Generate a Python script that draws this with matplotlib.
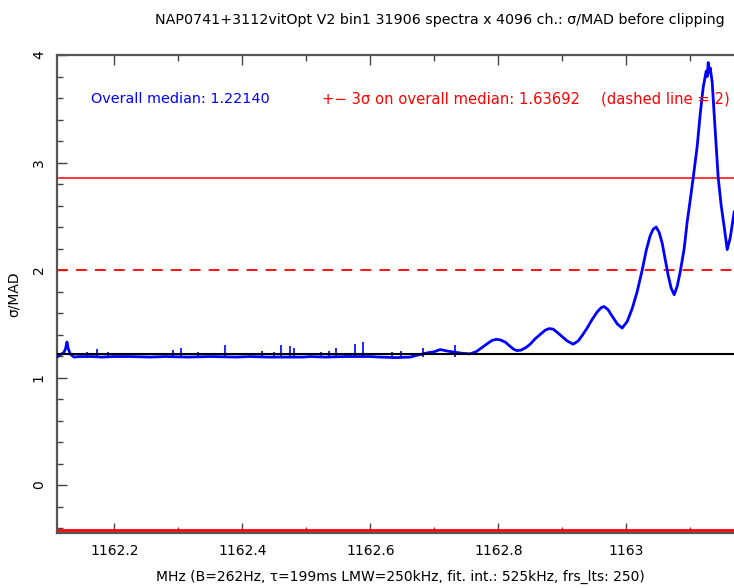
import matplotlib
matplotlib.use("Agg")
import matplotlib.pyplot as plt
from matplotlib.ticker import MultipleLocator

plt.rcParams['font.family'] = ['DejaVu Sans']

# Overall statistics
overall_median = 1.22140
three_sigma = 1.63692
dashed_level = 2.0

# sigma/MAD profile across the band (MHz, value)
freq_mhz = [
    1162.1105, 1162.115, 1162.121, 1162.124, 1162.1261, 1162.128, 1162.131,
    1162.137, 1162.146, 1162.165, 1162.180, 1162.200, 1162.225, 1162.256,
    1162.280, 1162.315, 1162.350, 1162.390, 1162.412, 1162.440, 1162.495,
    1162.506, 1162.530, 1162.560, 1162.600, 1162.615, 1162.640, 1162.662,
    1162.675, 1162.690, 1162.700, 1162.709, 1162.721, 1162.7433, 1162.7558,
    1162.7652, 1162.7746, 1162.7839, 1162.7902, 1162.7964, 1162.8027,
    1162.8105, 1162.8183, 1162.8246, 1162.8293, 1162.8355, 1162.8433,
    1162.8496, 1162.8574, 1162.8652, 1162.8730, 1162.8793, 1162.8855,
    1162.8918, 1162.8996, 1162.9074, 1162.9168, 1162.9246, 1162.9308,
    1162.9386, 1162.9464, 1162.9543, 1162.9605, 1162.9652, 1162.9714,
    1162.9777, 1162.9855, 1162.9933, 1163.0011, 1163.0089, 1163.0168,
    1163.0246, 1163.0308, 1163.0371, 1163.0418, 1163.0464, 1163.0511,
    1163.0558, 1163.0605, 1163.0652, 1163.0699, 1163.0746, 1163.0793,
    1163.0839, 1163.0902, 1163.0949, 1163.0996, 1163.1043, 1163.1105,
    1163.1152, 1163.1199, 1163.1246, 1163.1262, 1163.1277, 1163.1293,
    1163.1308, 1163.1339, 1163.1386, 1163.1433, 1163.1480, 1163.1527,
    1163.1574, 1163.1621, 1163.1652, 1163.1683,
]
sigma_mad = [
    1.19, 1.21, 1.23, 1.27, 1.33, 1.27, 1.22,
    1.19, 1.195, 1.195, 1.19, 1.195, 1.195, 1.19,
    1.195, 1.19, 1.195, 1.19, 1.195, 1.19, 1.19,
    1.195, 1.19, 1.195, 1.195, 1.19, 1.185, 1.19,
    1.21, 1.23, 1.24, 1.26, 1.245, 1.225, 1.22,
    1.24, 1.28, 1.32, 1.345, 1.355, 1.35,
    1.33, 1.29, 1.26, 1.25, 1.255, 1.28,
    1.31, 1.36, 1.40, 1.44, 1.455, 1.45,
    1.42, 1.38, 1.34, 1.31, 1.34, 1.39,
    1.46, 1.54, 1.61, 1.65, 1.66, 1.63,
    1.57, 1.50, 1.46, 1.52, 1.64, 1.80,
    2.00, 2.18, 2.32, 2.38, 2.40, 2.35,
    2.25, 2.10, 1.95, 1.83, 1.77, 1.85,
    1.98, 2.20, 2.45, 2.65, 2.86, 3.15,
    3.45, 3.70, 3.85, 3.80, 3.93, 3.84,
    3.88, 3.75, 3.30, 2.86, 2.60, 2.40,
    2.19, 2.30, 2.42, 2.54,
]

# Narrow single-channel spikes above the flat part of the band
spike_mhz = [1162.157, 1162.173, 1162.190, 1162.292, 1162.304, 1162.331,
             1162.373, 1162.431, 1162.450, 1162.461, 1162.475, 1162.481,
             1162.523, 1162.536, 1162.546, 1162.567, 1162.576, 1162.589,
             1162.634, 1162.648, 1162.682, 1162.732]
spike_val = [1.24, 1.265, 1.24, 1.26, 1.27, 1.24,
             1.30, 1.245, 1.24, 1.30, 1.29, 1.27,
             1.24, 1.25, 1.27, 1.23, 1.31, 1.33,
             1.24, 1.25, 1.27, 1.30]
spike_base = 1.19

title = "NAP0741+3112vitOpt V2 bin1 31906 spectra x 4096 ch.: σ/MAD before clipping"
xlabel = "MHz (B=262Hz, τ=199ms LMW=250kHz, fit. int.: 525kHz, frs_lts: 250)"

fig = plt.figure(figsize=(7.34, 5.88), dpi=100)
ax = fig.add_axes([57 / 734, 1 - 533 / 588, 1 - 57 / 734, (533 - 55) / 588])

ax.set_xlim(1162.1105, 1163.168)
ax.set_ylim(-0.4465, 4.0)

blue = '#0000ff'
red = '#ff0000'

ax.axhline(overall_median + three_sigma, color=red, lw=1.1, zorder=2)
ax.axhline(overall_median - three_sigma, color=red, lw=2.0, zorder=2)
ax.axhline(dashed_level, color=red, lw=1.3, ls=(0, (6, 4.5)), zorder=2)

ax.vlines(spike_mhz, spike_base, spike_val, color=blue, lw=1.2, zorder=3)
ax.plot(freq_mhz, sigma_mad, color=blue, lw=2.0, zorder=3,
        solid_joinstyle='round')
ax.axhline(overall_median, color='black', lw=1.5, zorder=4)

ax.text(1162.1636, 3.59, "Overall median: 1.22140", color=blue,
        fontsize=10.4, va='center', ha='left')
ax.text(1162.5245, 3.59, "+− 3σ on overall median: 1.63692", color=red,
        fontsize=10.6, va='center', ha='left')
ax.text(1162.9605, 3.59, "(dashed line = 2)", color=red,
        fontsize=10.6, va='center', ha='left')

ax.xaxis.set_major_locator(MultipleLocator(0.2))
ax.xaxis.set_minor_locator(MultipleLocator(0.1))
ax.yaxis.set_major_locator(MultipleLocator(1))
ax.yaxis.set_minor_locator(MultipleLocator(0.2))
ax.set_xticks([1162.2, 1162.4, 1162.6, 1162.8, 1163.0])
ax.set_xticklabels(["1162.2", "1162.4", "1162.6", "1162.8", "1163"])

ax.tick_params(which='both', direction='in', top=True, right=False,
               color='#444444', width=1.0)
ax.tick_params(which='major', length=7, labelsize=10, pad=8)
ax.tick_params(which='minor', length=4)
for lab in ax.get_yticklabels():
    lab.set_rotation(90)
    lab.set_va('center')

for side in ('left', 'bottom', 'top'):
    ax.spines[side].set_color('#555555')
    ax.spines[side].set_linewidth(1.6)
ax.spines['right'].set_visible(False)

ax.set_ylabel("σ/MAD", fontsize=10, labelpad=8)
fig.text(0.545, 0.019, xlabel, fontsize=10, ha='center', va='center')
fig.text(0.599, 0.966, title, fontsize=10.3, ha='center', va='center')

fig.savefig("out.png", dpi=100)
